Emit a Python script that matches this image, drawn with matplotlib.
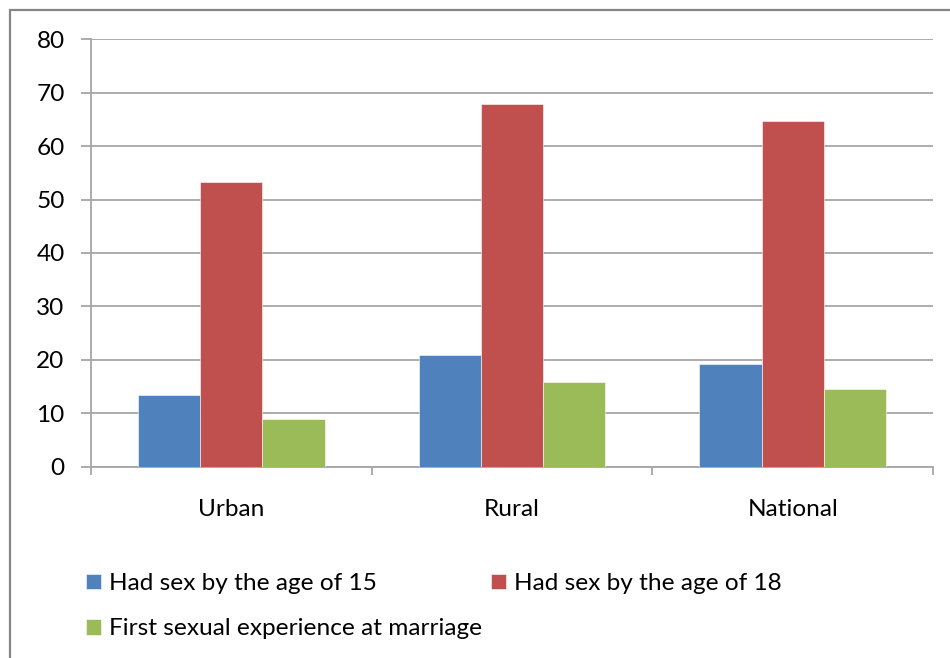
import numpy as np
import matplotlib
matplotlib.use("Agg")
import matplotlib.pyplot as plt
from matplotlib.patches import Rectangle

plt.rcParams["font.family"] = ["Lato", "DejaVu Sans"]

categories = ["Urban", "Rural", "National"]
series = ["Had sex by the age of 15", "Had sex by the age of 18",
          "First sexual experience at marriage"]
by_15 = [13.4, 21.0, 19.3]
by_18 = [53.2, 67.9, 64.7]
at_marriage = [8.9, 15.9, 14.5]
colors = ["#4F81BD", "#C0504D", "#9BBB59"]
GRID = "#A6A6A6"
FS = 17.6

fig = plt.figure(figsize=(9.5, 6.58), dpi=100)
ax = fig.add_axes([91 / 950, 1 - 466.7 / 658, 842 / 950, 427.4 / 658])

x = np.arange(len(categories))
width = 0.222
bars = []
for i, (vals, col, lab) in enumerate(zip([by_15, by_18, at_marriage], colors, series)):
    b = ax.bar(x + (i - 1) * width, vals, width, color=col, label=lab,
               edgecolor="white", linewidth=0.4, zorder=3)
    bars.append(b)

ax.set_xlim(-0.5, len(categories) - 0.5)
ax.set_ylim(0, 80)
ax.set_yticks(range(0, 81, 10))
ax.yaxis.grid(True, color=GRID, linewidth=1.3, zorder=0)
ax.set_xticks(x)
ax.set_xticklabels(categories)
ax.set_xticks(np.arange(-0.5, len(categories), 1), minor=True)
ax.tick_params(axis="x", which="major", length=0, pad=23, labelsize=FS)
ax.tick_params(axis="x", which="minor", length=6, width=1.3, color=GRID, direction="out")
ax.tick_params(axis="y", length=7, width=1.3, color=GRID, pad=12, labelsize=FS)
for s in ["top", "right"]:
    ax.spines[s].set_visible(False)
for s in ["left", "bottom"]:
    ax.spines[s].set_color(GRID)
    ax.spines[s].set_linewidth(1.3)

# row-major order: 15 | 18 on first row, marriage below
handles = [bars[0], bars[2], bars[1]]
labels = [series[0], series[2], series[1]]
fig.legend(handles, labels, ncol=2, loc="upper left",
           bbox_to_anchor=(64 / 950, 1 - 551 / 658), frameon=False,
           fontsize=FS, handlelength=0.6, handleheight=0.6,
           handletextpad=0.35, columnspacing=0.35, labelspacing=1.0)

fig.patches.append(Rectangle((9.5 / 950, -0.01), 1.1, 1 - 9.5 / 658 + 0.01,
                             transform=fig.transFigure, fill=False,
                             edgecolor="#868686", linewidth=1.6))

fig.savefig("out.png", dpi=100)
